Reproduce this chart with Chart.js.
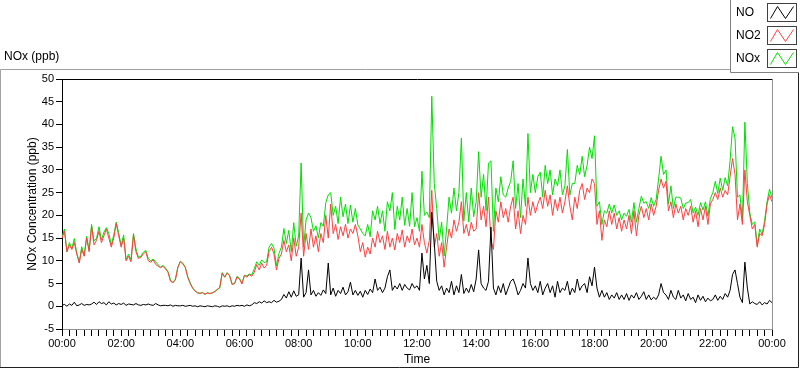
<!DOCTYPE html>
<html>
<head>
<meta charset="utf-8">
<script src="https://cdn.jsdelivr.net/npm/chart.js@4.4.1/dist/chart.umd.min.js"></script>
<style>
  html, body { margin: 0; padding: 0; background: #fff; }
  #wrap { width: 800px; height: 369px; position: relative; }
</style>
</head>
<body>
<div id="wrap"><canvas id="noxChart" width="800" height="369"></canvas></div>
<script>
// ===== DATA (5-minute readings, one row per hour) =====
const STEP_MIN = 5;
const SERIES_NAMES = ['NO', 'NO2', 'NOx'];
const SERIES_COLORS = ['#000000', '#ff4040', '#00e000'];

const NO_PPB = [
  0.2, 0.4, 0, 0.5, 0.2, 0.9, 0.1, 0.3, 0.6, 0.2, 0.4, 0.3,
  0.5, 0.9, 0.4, 1, 0.6, 0.8, 0.3, 1, 0.5, 0.7, 0.3, 0.6,
  0.4, 0.7, 0.2, 0.5, 0.4, 0.3, 0.6, 0.3, 0.2, 0.4, 0.3, 0.5,
  0.3, 0.2, 0.6, 0.3, 0.1, 0.2, 0.2, 0.1, 0.3, 0, 0.2, 0.1,
  0.1, 0.2, 0, 0.1, 0.2, 0, 0.1, -0.1, 0.1, 0, -0.1, 0.1,
  0, -0.1, 0.1, 0, -0.2, 0.1, 0, 0.1, -0.1, 0.1, 0, 0.2,
  0.1, 0.2, 0, 0.3, 0.1, 0.3, 0.8, 0.6, 1, 0.7, 1.2, 0.8,
  1, 0.8, 1.3, 0.9, 1.1, 1.5, 2.6, 1.8, 3.2, 2, 3.4, 2.2,
  2.5, 10.6, 2, 3, 8, 2.5, 3.5, 2.2, 3, 2.4, 3.6, 2.8,
  9.5, 2.5, 4, 2.2, 3.5, 2.8, 4.2, 2.5, 3.2, 5.3, 2.5, 3.5,
  2.4, 3.3, 2, 3.5, 2.6, 3.8, 3, 6, 3.5, 4.2, 3, 4,
  6.5, 8, 3.5, 4.5, 3.8, 5, 3.5, 4.8, 4, 3.6, 5, 4,
  4.5, 3.5, 11.7, 6, 9, 5, 20.7, 14, 5.5, 3.5, 4.5, 2.5,
  4, 3, 5.5, 2.5, 4.5, 3, 7, 2.8, 4, 3, 4.8, 3.2,
  6, 12.4, 5, 4, 3.5, 5.5, 17.4, 4, 2.5, 4.5, 3, 5,
  2.5, 4, 5.5, 6, 4.5, 2.5, 3.5, 5, 4, 10.6, 5, 3.5,
  4.5, 3, 5.5, 2.5, 4, 5, 3, 4.5, 2, 5.5, 3, 4,
  3.5, 5.5, 2.5, 4, 3, 6, 3.5, 4.5, 5, 3, 6.5, 4.5,
  8.6, 4, 2, 3.5, 2, 3, 1.5, 2.5, 1.8, 3, 1.5, 2.5,
  1.5, 2.8, 1.3, 2.5, 1.8, 3, 1.5, 2.2, 3.2, 1.5, 2.5, 1.4,
  2, 1.5, 2.5, 5, 3, 2.5, 1.5, 3.5, 2, 1.5, 3.5, 1.8,
  2.5, 1.2, 2.8, 1.5, 2, 0.8, 2.5, 1.3, 2.2, 1, 1.8, 1.2,
  1.5, 2.5, 1.3, 2.2, 1.5, 2.8, 2, 3.5, 7, 8, 5, 2,
  0.8, 9.7, 4, 0.5, 1, 0.6, 0.4, 1, 0.3, 0.8, 0.5, 1.3,
  0.8
];

const NO2_PPB = [
  15, 16.5, 12, 13.5, 12.5, 14, 11.5, 9.5, 12.5, 11, 15, 12,
  17.5, 13.5, 14.5, 16.5, 14, 15.5, 17, 15, 13, 15, 18.2, 15.5,
  13, 15, 10, 11, 9.8, 15.7, 12, 10.5, 10.8, 11.5, 12, 10,
  9.7, 10.2, 9.2, 8.8, 8.5, 8.8, 8.2, 7.5, 5.5, 5.2, 5.8, 8.5,
  9.8, 9.3, 8.6, 6.4, 5, 4, 3.3, 3, 2.8, 3, 2.7, 2.9,
  2.8, 3, 3.2, 3.7, 4.2, 7.3, 6.4, 7.3, 6.8, 4.8, 5, 6.4,
  6, 4.9, 6.8, 6.4, 7, 6.6, 7.5, 9.2, 8, 9.5, 8.4, 9,
  12, 13, 11.5, 8, 10.5, 11.5, 14.5, 12, 13.5, 10, 15, 11,
  13, 20.5, 11, 16, 12.5, 17, 13, 15.5, 12, 16, 14, 20,
  15, 22.5, 16, 18, 14.7, 17.5, 15.5, 18, 15, 17, 16, 18,
  15.5, 12, 14, 10.8, 13, 11.5, 15, 13, 16.5, 14, 15.5, 12.5,
  16.5, 13, 15, 12.4, 16, 14, 16.8, 13, 15.5, 14, 17, 13.5,
  15, 13, 18, 14, 11.7, 14.5, 25.5, 13, 16, 11, 14, 8.6,
  13, 17, 15, 19, 16.5, 18.5, 23, 16, 18, 15.5, 18.5, 16.5,
  17, 25, 19, 22, 17.5, 24, 14.5, 12.5, 21, 18.5, 23, 19.5,
  21.5, 18.5, 22, 24, 17, 21, 16, 20, 18, 24, 20, 23,
  20.5, 22.5, 24, 21.5, 25.5, 22, 24.5, 20, 23.5, 21, 24, 20.5,
  23, 26.5, 22, 19, 24, 21.5, 25.5, 27, 23.5, 26, 25, 28,
  27, 18, 21, 14.5, 19, 17.5, 21, 18, 20.5, 17, 19.5, 16.5,
  19, 17, 20, 16, 21, 15.5, 20, 22, 19.5, 21.5, 19, 22.5,
  20, 22, 25.5, 28, 26, 27.5, 21, 23, 19.5, 22.5, 20.5, 22,
  19, 21.5, 20, 22, 18.5, 21, 17.5, 21.5, 19, 22, 18, 22.5,
  23.5, 25, 23.5, 26, 24, 25.5, 24.5, 28.5, 32.5, 29, 19, 22.5,
  18, 30, 23, 20, 17, 18, 13, 16, 15.5, 18, 22.5, 24.5,
  23
];

const NOX_PPB = [
  15.2, 17, 12, 14, 12.7, 14.9, 11.6, 9.8, 13.1, 11.2, 15.4, 12.3,
  18, 14.4, 14.9, 17.5, 14.6, 16.3, 17.3, 16, 13.5, 15.7, 18.5, 16.1,
  13.4, 15.7, 10.2, 11.5, 10.2, 16, 12.6, 10.8, 11, 11.9, 12.3, 10.5,
  10, 10.4, 9.8, 9.1, 8.6, 9, 8.4, 7.6, 5.8, 5.2, 6, 8.6,
  9.9, 9.5, 8.6, 6.5, 5.2, 4, 3.4, 2.9, 2.9, 3, 2.6, 3,
  2.8, 2.9, 3.3, 3.7, 4, 7.4, 6.4, 7.4, 6.7, 4.9, 5, 6.6,
  6.1, 5.1, 6.8, 6.7, 7.1, 6.9, 8.3, 9.8, 9, 10.2, 9.6, 9.8,
  13, 13.8, 12.8, 8.9, 11.6, 13, 17.1, 13.8, 16.7, 12, 18.4, 13.2,
  15.5, 31.5, 13, 19, 20.5, 19.5, 16.5, 17.7, 15, 18.4, 17.6, 22.8,
  24.5, 25, 20, 22, 18.2, 24, 19.7, 22.5, 18.2, 22.3, 18.5, 21.5,
  17.9, 17, 16, 15.5, 18, 15.3, 21, 19, 22, 18.2, 21, 16.5,
  23, 21, 25, 16.9, 22, 19, 24, 17.8, 21.5, 17.6, 25, 17.5,
  19.5, 16.5, 29.7, 20, 20.7, 19.5, 46.2, 27, 21.5, 14.5, 18.5, 11.1,
  17, 24, 20.5, 26, 21, 25, 37, 18.8, 25, 18.5, 26, 19.7,
  23, 34, 24, 29, 21, 31.5, 32, 16.5, 26, 23, 28.5, 24.5,
  24, 26, 27.5, 32, 21.5, 27, 19.5, 28, 22, 38, 25, 29,
  25, 28.5, 29.5, 24, 31, 27, 30, 24.5, 28, 26.5, 30, 24.5,
  26.5, 34.5, 24.5, 27, 27, 31, 29, 33, 28.5, 31, 35, 32.5,
  37.5, 22, 23, 18, 21, 20.5, 22.5, 20.5, 22.3, 20, 21, 19,
  20.5, 19.8, 21.3, 18.5, 22.8, 18.5, 21.5, 24.2, 22.7, 23, 21.5, 23.9,
  22, 23.5, 28, 33, 29, 30, 22.5, 26.5, 21.5, 24, 24, 23.8,
  21.5, 22.7, 22.8, 23.5, 20.5, 21.8, 20, 22.8, 21.2, 23, 19.8, 23.7,
  25, 27.5, 24.8, 28.2, 25.5, 28.3, 26.5, 32, 39.5, 37, 24, 24.5,
  18.8, 40.5, 27, 20.5, 18, 18.6, 13.4, 17, 15.8, 18.8, 23, 25.8,
  23.8
];

const X_MIN = 0, X_MAX = 1440, X_TICK_STEP = 15, X_LABEL_EVERY = 120;
const Y_MIN = -5, Y_MAX = 50, Y_TICK_STEP = 5;

const FONT = 'Liberation Sans, Arial, sans-serif';

function toPoints(arr) {
  return arr.map((v, i) => ({ x: i * STEP_MIN, y: v }));
}

function hhmm(min) {
  const h = Math.floor(min / 60) % 24;
  const m = min % 60;
  return String(h).padStart(2, '0') + ':' + String(m).padStart(2, '0');
}

// ===== FRAME, TITLES AND LEGEND (LabVIEW look) =====
const framePlugin = {
  id: 'frame',
  beforeDraw(chart) {
    const c = chart.ctx;
    c.save();
    c.fillStyle = '#fff';
    c.fillRect(0, 0, chart.width, chart.height);
    c.restore();
  },
  afterDraw(chart) {
    const c = chart.ctx;
    const a = chart.chartArea;
    c.save();
    c.lineWidth = 1;

    // outer panel
    c.strokeStyle = '#a0a0a0';
    c.beginPath();
    c.moveTo(0.5, 368); c.lineTo(0.5, 69.5); c.lineTo(731, 69.5);
    c.stroke();
    c.strokeStyle = '#202020';
    c.beginPath();
    c.moveTo(0, 367.5); c.lineTo(798.5, 367.5); c.lineTo(798.5, 73);
    c.stroke();

    // plot box
    c.strokeStyle = '#000';
    c.beginPath();
    c.moveTo(Math.round(a.left) + 0.5, Math.round(a.top) + 0.5);
    c.lineTo(Math.round(a.right) + 0.5, Math.round(a.top) + 0.5);
    c.stroke();
    c.strokeStyle = '#909090';
    c.beginPath();
    c.moveTo(Math.round(a.right) + 0.5, Math.round(a.top) + 0.5);
    c.lineTo(Math.round(a.right) + 0.5, Math.round(a.bottom) + 0.5);
    c.stroke();

    // chart title and axis titles
    c.fillStyle = '#000';
    c.font = '12px ' + FONT;
    c.textBaseline = 'middle';
    c.textAlign = 'left';
    c.fillText('NOx (ppb)', 4, 57);
    c.textAlign = 'center';
    c.fillText('Time', (a.left + a.right) / 2, 360);
    c.translate(33, (a.top + a.bottom) / 2);
    c.rotate(-Math.PI / 2);
    c.fillText('NOx Concentration (ppb)', 0, 0);
    c.setTransform(1, 0, 0, 1, 0, 0);

    // legend box
    c.fillStyle = '#fff';
    c.fillRect(731, 0, 68, 72);
    c.strokeStyle = '#808080';
    c.beginPath();
    c.moveTo(730.5, 0); c.lineTo(730.5, 72.5); c.lineTo(799, 72.5);
    c.stroke();
    SERIES_NAMES.forEach((name, i) => {
      const cy = 13 + i * 23;
      c.fillStyle = '#000';
      c.textAlign = 'left';
      c.fillText(name, 736, cy);
      const bx = 767.5, by = cy - 9.5, bw = 29, bh = 18;
      c.strokeStyle = '#404040';
      c.strokeRect(bx, by, bw, bh);
      c.strokeStyle = SERIES_COLORS[i];
      c.beginPath();
      c.moveTo(bx + 3, by + bh - 3);
      c.lineTo(bx + 10, by + 3);
      c.lineTo(bx + 18, by + bh - 3);
      c.lineTo(bx + 26, by + 3);
      c.stroke();
    });
    c.restore();
  }
};

const ctx = document.getElementById('noxChart');
new Chart(ctx, {
  type: 'line',
  data: {
    datasets: [
      { label: 'NO',  data: toPoints(NO_PPB),  borderColor: SERIES_COLORS[0] },
      { label: 'NO2', data: toPoints(NO2_PPB), borderColor: SERIES_COLORS[1] },
      { label: 'NOx', data: toPoints(NOX_PPB), borderColor: SERIES_COLORS[2] }
    ]
  },
  options: {
    responsive: false,
    animation: false,
    devicePixelRatio: 1,
    datasets: { line: { borderWidth: 1, pointRadius: 0, tension: 0, fill: false } },
    layout: { padding: { left: 0, top: 79, right: 28, bottom: 0 } },
    plugins: { legend: { display: false }, tooltip: { enabled: false } },
    scales: {
      x: {
        type: 'linear',
        min: X_MIN, max: X_MAX,
        afterFit: s => { s.height = 40; },
        border: { display: true, color: '#909090' },
        grid: { drawOnChartArea: false, drawTicks: true, tickLength: 7, color: '#000' },
        ticks: {
          stepSize: X_TICK_STEP, autoSkip: false, maxRotation: 0,
          color: '#000', font: { family: FONT, size: 11 }, padding: 1,
          callback: v => (v % X_LABEL_EVERY === 0 ? hhmm(v) : '')
        }
      },
      y: {
        min: Y_MIN, max: Y_MAX,
        afterFit: s => { s.width = 62; },
        border: { display: true, color: '#000' },
        grid: { drawOnChartArea: false, drawTicks: true, tickLength: 6, color: '#000' },
        ticks: {
          stepSize: Y_TICK_STEP, color: '#000', padding: 2,
          font: { family: FONT, size: 11 }
        }
      }
    }
  },
  plugins: [framePlugin]
});
</script>
</body>
</html>
